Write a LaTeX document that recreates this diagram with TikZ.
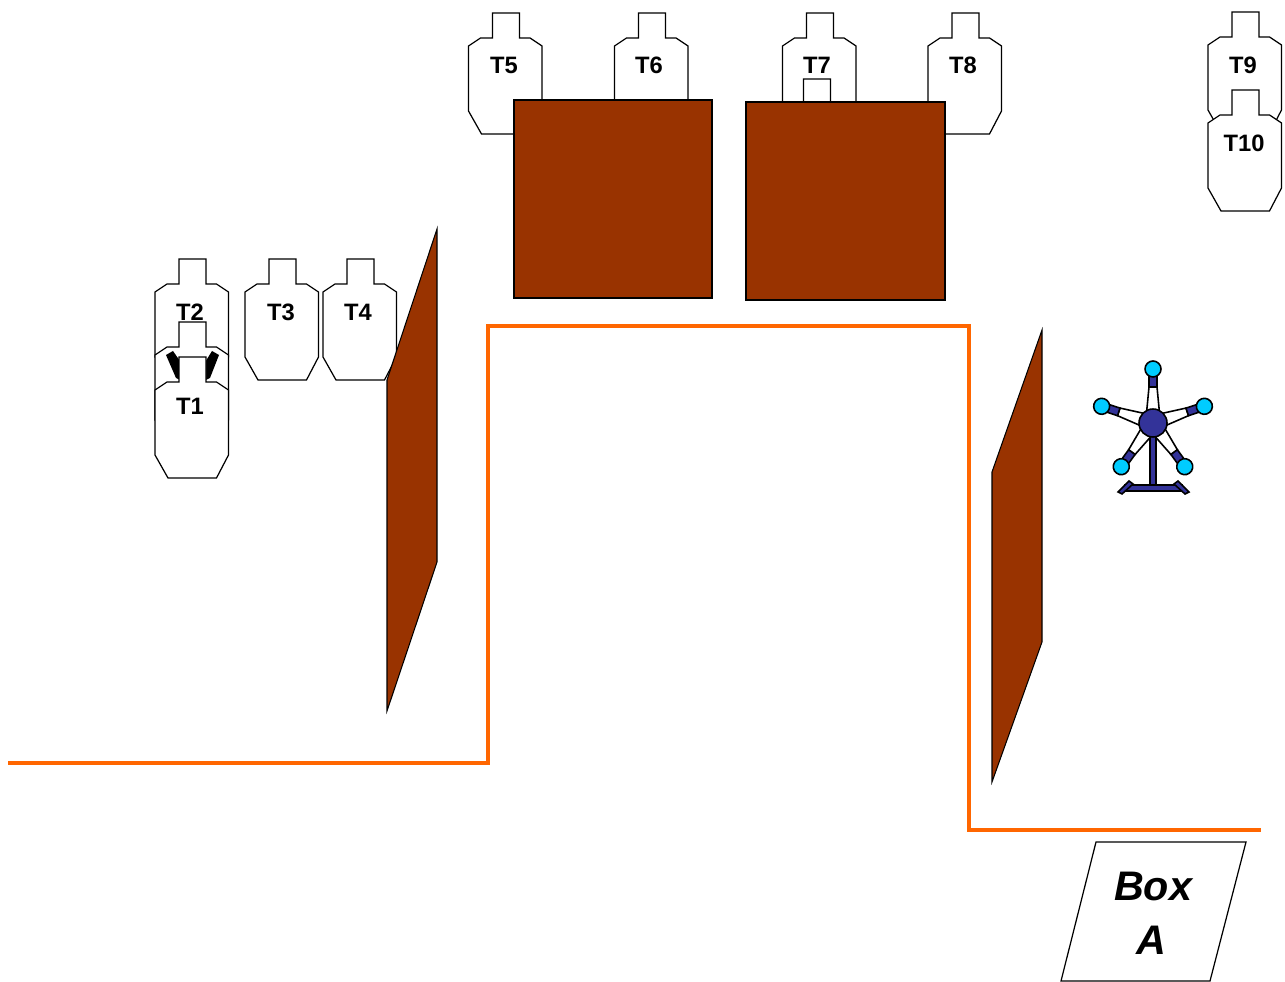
\documentclass[tikz,border=0pt]{standalone}
\usepackage{fontspec}
\setmainfont{Liberation Sans}
\definecolor{wallbrown}{HTML}{993300}
\definecolor{tapeorange}{HTML}{FF6600}
\definecolor{figblue}{HTML}{333399}
\definecolor{figcyan}{HTML}{00CCFF}
\tikzset{
  outline/.style={draw=black, line width=0.7pt},
  targetline/.style={outline, fill=white},
  wall/.style={draw=black, line width=0.6pt, fill=wallbrown},
  tape/.style={draw=tapeorange, line width=2.4pt},
  targetlabel/.style={inner sep=0pt, font=\fontsize{13.5}{15}\selectfont\bfseries},
  boxlabel/.style={inner sep=0pt, font=\fontsize{23.5}{26}\selectfont\bfseries\itshape},
  figline/.style={draw=black, line width=0.9pt},
}
\newcommand{\targetshape}[2]{
  \draw[targetline, shift={(#1, #2)}]
    (-13.5, 0) -- (-13.5, 25) -- (-25.5, 25) -- (-37.5, 33) -- (-37.5, 98)
    -- (-24.5, 121) -- (24, 121) -- (36, 98) -- (36, 33) -- (24, 25)
    -- (13.5, 25) -- (13.5, 0) -- cycle;
}

\begin{document}
\begin{tikzpicture}[x=0.02cm, y=-0.02cm]
  \useasboundingbox (0, 0) rectangle (1285, 982);

  % targets, back to front
  \foreach \x/\y in {506/13, 652/13, 820/13, 817/79, 965.5/13, 1245.5/12, 1245.5/90,
                     192.5/259, 192.5/322, 282.5/259, 360.5/259} {
    \targetshape{\x}{\y}
  }

  \fill[black] (166, 355) -- (173, 351) -- (182, 364) -- (182, 381) -- (176, 378) -- cycle;
  \fill[black] (219, 355) -- (212, 351) -- (204, 364) -- (204, 381) -- (210, 378) -- cycle;
  \targetshape{192.5}{357}

  % no shoot walls
  \draw[wall] (514, 100) rectangle (712, 298);
  \draw[wall] (746, 102) rectangle (945, 300);
  \draw[wall] (437, 229) -- (437, 562) -- (387, 711) -- (387, 380) -- cycle;
  \draw[wall] (1042, 330) -- (1042, 642) -- (992, 782) -- (992, 472) -- cycle;

  % fault line
  \draw[tape] (8, 763) -- (488, 763) -- (488, 326) -- (969, 326)
    -- (969, 830) -- (1261, 830);

  % box
  \draw[outline] (1096, 842) -- (1246, 842) -- (1210, 981) -- (1061, 981) -- cycle;
  \node[boxlabel] (boxword) at (1153, 886) {Box};
  \node[boxlabel] (boxletter) at (1151, 940) {A};

  % popper stand
  \draw[figline, fill=figblue] (1150, 430) rectangle (1156, 487);
  \draw[figline, fill=figblue] (1125, 485) rectangle (1182, 491);
  \draw[figline, fill=figblue] (1118, 492) -- (1129, 481) -- (1133, 484) -- (1122, 494) -- cycle;
  \draw[figline, fill=figblue] (1189, 492) -- (1178, 481) -- (1174, 484) -- (1185, 494) -- cycle;

  % spokes and balls
  \foreach \a in {90, 18, 162, 234, 306} {
    \begin{scope}[shift={(1153, 423)}, rotate=\a]
      \draw[figline, fill=white] (10, -6.5) -- (36, -4) -- (36, 4) -- (10, 6.5) -- cycle;
      \draw[figline, fill=figblue] (36, -4) rectangle (47, 4);
      \draw[figline, fill=figcyan] (54, 0) circle (8);
    \end{scope}
  }
  \draw[figline, fill=figblue] (1153, 423) circle (14);

  % target labels
  \foreach \x/\y/\name in {190/406/T1, 190/312/T2, 281/312/T3, 358/312/T4, 504/65/T5,
                           649/65/T6, 817/65/T7, 963/65/T8, 1243/65/T9, 1244/143/T10} {
    \node[targetlabel] (label\name) at (\x, \y) {\name};
  }
\end{tikzpicture}
\end{document}
